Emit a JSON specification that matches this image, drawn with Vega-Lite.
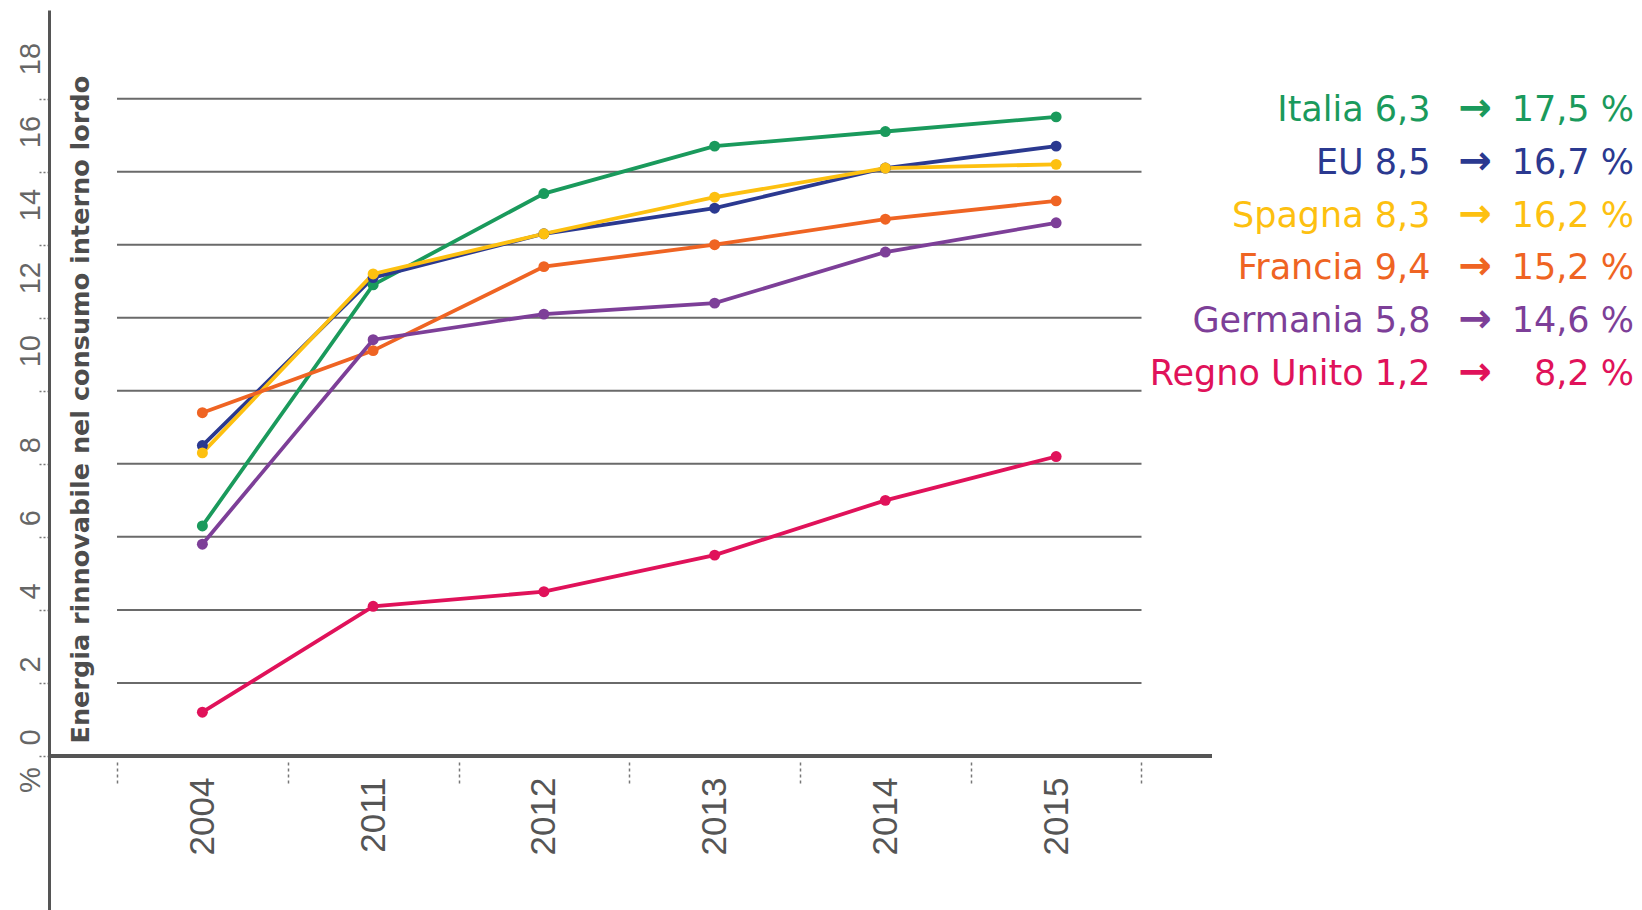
{
  "$schema": "https://vega.github.io/schema/vega-lite/v6.json",
  "width": 1163,
  "height": 900,
  "autosize": {"type": "none"},
  "padding": {"left": 49, "top": 10, "right": 430, "bottom": 0},
  "background": "white",
  "config": {"view": {"stroke": null}, "font": "Liberation Sans"},
  "datasets": {
    "serie": [
      {"paese": "Italia", "anno": "2004", "valore": 6.3},
      {"paese": "Italia", "anno": "2011", "valore": 12.9},
      {"paese": "Italia", "anno": "2012", "valore": 15.4},
      {"paese": "Italia", "anno": "2013", "valore": 16.7},
      {"paese": "Italia", "anno": "2014", "valore": 17.1},
      {"paese": "Italia", "anno": "2015", "valore": 17.5},
      {"paese": "EU", "anno": "2004", "valore": 8.5},
      {"paese": "EU", "anno": "2011", "valore": 13.1},
      {"paese": "EU", "anno": "2012", "valore": 14.3},
      {"paese": "EU", "anno": "2013", "valore": 15.0},
      {"paese": "EU", "anno": "2014", "valore": 16.1},
      {"paese": "EU", "anno": "2015", "valore": 16.7},
      {"paese": "Spagna", "anno": "2004", "valore": 8.3},
      {"paese": "Spagna", "anno": "2011", "valore": 13.2},
      {"paese": "Spagna", "anno": "2012", "valore": 14.3},
      {"paese": "Spagna", "anno": "2013", "valore": 15.3},
      {"paese": "Spagna", "anno": "2014", "valore": 16.1},
      {"paese": "Spagna", "anno": "2015", "valore": 16.2},
      {"paese": "Francia", "anno": "2004", "valore": 9.4},
      {"paese": "Francia", "anno": "2011", "valore": 11.1},
      {"paese": "Francia", "anno": "2012", "valore": 13.4},
      {"paese": "Francia", "anno": "2013", "valore": 14.0},
      {"paese": "Francia", "anno": "2014", "valore": 14.7},
      {"paese": "Francia", "anno": "2015", "valore": 15.2},
      {"paese": "Germania", "anno": "2004", "valore": 5.8},
      {"paese": "Germania", "anno": "2011", "valore": 11.4},
      {"paese": "Germania", "anno": "2012", "valore": 12.1},
      {"paese": "Germania", "anno": "2013", "valore": 12.4},
      {"paese": "Germania", "anno": "2014", "valore": 13.8},
      {"paese": "Germania", "anno": "2015", "valore": 14.6},
      {"paese": "Regno Unito", "anno": "2004", "valore": 1.2},
      {"paese": "Regno Unito", "anno": "2011", "valore": 4.1},
      {"paese": "Regno Unito", "anno": "2012", "valore": 4.5},
      {"paese": "Regno Unito", "anno": "2013", "valore": 5.5},
      {"paese": "Regno Unito", "anno": "2014", "valore": 7.0},
      {"paese": "Regno Unito", "anno": "2015", "valore": 8.2}
    ],
    "legenda": [
      {"paese": "Italia", "etichetta": "Italia 6,3", "obiettivo": "17,5 %"},
      {"paese": "EU", "etichetta": "EU 8,5", "obiettivo": "16,7 %"},
      {"paese": "Spagna", "etichetta": "Spagna 8,3", "obiettivo": "16,2 %"},
      {"paese": "Francia", "etichetta": "Francia 9,4", "obiettivo": "15,2 %"},
      {"paese": "Germania", "etichetta": "Germania 5,8", "obiettivo": "14,6 %"},
      {"paese": "Regno Unito", "etichetta": "Regno Unito 1,2", "obiettivo": "8,2 %"}
    ],
    "griglia": [
      {"v": 2}, {"v": 4}, {"v": 6}, {"v": 8}, {"v": 10},
      {"v": 12}, {"v": 14}, {"v": 16}, {"v": 18}
    ]
  },
  "layer": [
    {
      "layer": [
        {
          "data": {"name": "griglia"},
          "mark": {"type": "rule", "color": "#6a6a6a", "strokeWidth": 2},
          "encoding": {
            "y": {"field": "v", "type": "quantitative"},
            "x": {"datum": "2004", "type": "ordinal", "bandPosition": 0},
            "x2": {"datum": "2015", "bandPosition": 1}
          }
        },
        {
          "data": {"name": "griglia"},
          "mark": {"type": "rule", "color": "#555555", "strokeWidth": 3},
          "encoding": {
            "y": {"datum": 0, "type": "quantitative"}
          }
        },
        {
          "data": {"name": "serie"},
          "mark": {"type": "line", "strokeWidth": 3.8},
          "encoding": {
            "x": {
              "field": "anno", "type": "ordinal", "bandPosition": 0.5,
              "scale": {"type": "band", "domain": ["2004", "2011", "2012", "2013", "2014", "2015"], "paddingInner": 0, "paddingOuter": 0.4056, "align": 0.491},
              "axis": {
                "title": null, "offset": -148, "domain": false, "grid": false,
                "tickBand": "extent", "tickSize": 23, "tickColor": "#777777", "tickWidth": 1.5, "tickDash": [3, 3],
                "labelAngle": 270, "labelAlign": "right", "labelBaseline": "middle", "labelPadding": -8,
                "labelFontSize": 35, "labelColor": "#555555", "labelFont": "Liberation Sans",
                "labelOverlap": false, "labelFlush": false
              }
            },
            "y": {
              "field": "valore", "type": "quantitative",
              "scale": {"domain": [-4.217, 20.427], "nice": false, "zero": false},
              "axis": {
                "values": [-1.3, 0, 2, 4, 6, 8, 10, 12, 14, 16, 18],
                "title": "Energia rinnovabile nel consumo interno lordo",
                "titleFont": "DejaVu Sans", "titleFontSize": 25.5, "titleFontWeight": "bold", "titleColor": "#4d4d4d",
                "titleAngle": 270, "titleAlign": "left", "titleBaseline": "alphabetic", "titleX": 39, "titleY": 733,
                "domainColor": "#555555", "domainWidth": 3, "grid": false,
                "tickSize": 10, "tickWidth": 1.5, "tickDash": [2, 2],
                "tickColor": {"condition": {"test": "datum.value < 0", "value": "transparent"}, "value": "#777777"},
                "labelAngle": 270, "labelAlign": "left", "labelBaseline": "alphabetic", "labelPadding": 0,
                "labelFontSize": 29, "labelColor": "#666666", "labelFont": "Liberation Sans",
                "labelOffset": {"condition": {"test": "datum.value >= 10", "value": -24}, "value": -11},
                "labelExpr": "datum.value < 0 ? '%' : format(datum.value, 'd')",
                "labelOverlap": false, "labelFlush": false, "labelBound": false
              }
            },
            "color": {
              "field": "paese", "type": "nominal",
              "scale": {"domain": ["Italia", "EU", "Spagna", "Francia", "Germania", "Regno Unito"], "range": ["#1a9a5c", "#2b3990", "#fdc010", "#ef6423", "#7d3f98", "#e0125a"]},
              "legend": null
            },
            "detail": {"field": "paese"}
          }
        },
        {
          "data": {"name": "serie"},
          "mark": {"type": "point", "filled": true, "size": 120, "opacity": 1},
          "encoding": {
            "x": {"field": "anno", "type": "ordinal", "bandPosition": 0.5},
            "y": {"field": "valore", "type": "quantitative"},
            "color": {"field": "paese", "type": "nominal", "legend": null}
          }
        }
      ]
    },
    {
      "data": {"name": "legenda"},
      "encoding": {
        "y": {
          "field": "paese", "type": "nominal",
          "scale": {"type": "point", "domain": ["Italia", "EU", "Spagna", "Francia", "Germania", "Regno Unito"], "range": [100, 364], "padding": 0},
          "axis": null
        },
        "color": {"field": "paese", "type": "nominal", "legend": null}
      },
      "layer": [
        {
          "mark": {"type": "text", "font": "DejaVu Sans", "fontSize": 35, "align": "right", "baseline": "middle"},
          "encoding": {
            "x": {"datum": "nome", "type": "nominal", "scale": {"type": "point", "domain": ["nome", "valore"], "range": [1381.5, 1585], "padding": 0}, "axis": null},
            "text": {"field": "etichetta"}
          }
        },
        {
          "mark": {"type": "text", "font": "DejaVu Sans", "fontSize": 40, "fontWeight": "bold", "align": "left", "baseline": "middle", "dx": 28, "dy": -1, "text": "→"},
          "encoding": {
            "x": {"datum": "nome", "type": "nominal"}
          }
        },
        {
          "mark": {"type": "text", "font": "DejaVu Sans", "fontSize": 35, "align": "right", "baseline": "middle"},
          "encoding": {
            "x": {"datum": "valore", "type": "nominal"},
            "text": {"field": "obiettivo"}
          }
        }
      ]
    }
  ],
  "resolve": {"scale": {"x": "independent", "y": "independent"}}
}
